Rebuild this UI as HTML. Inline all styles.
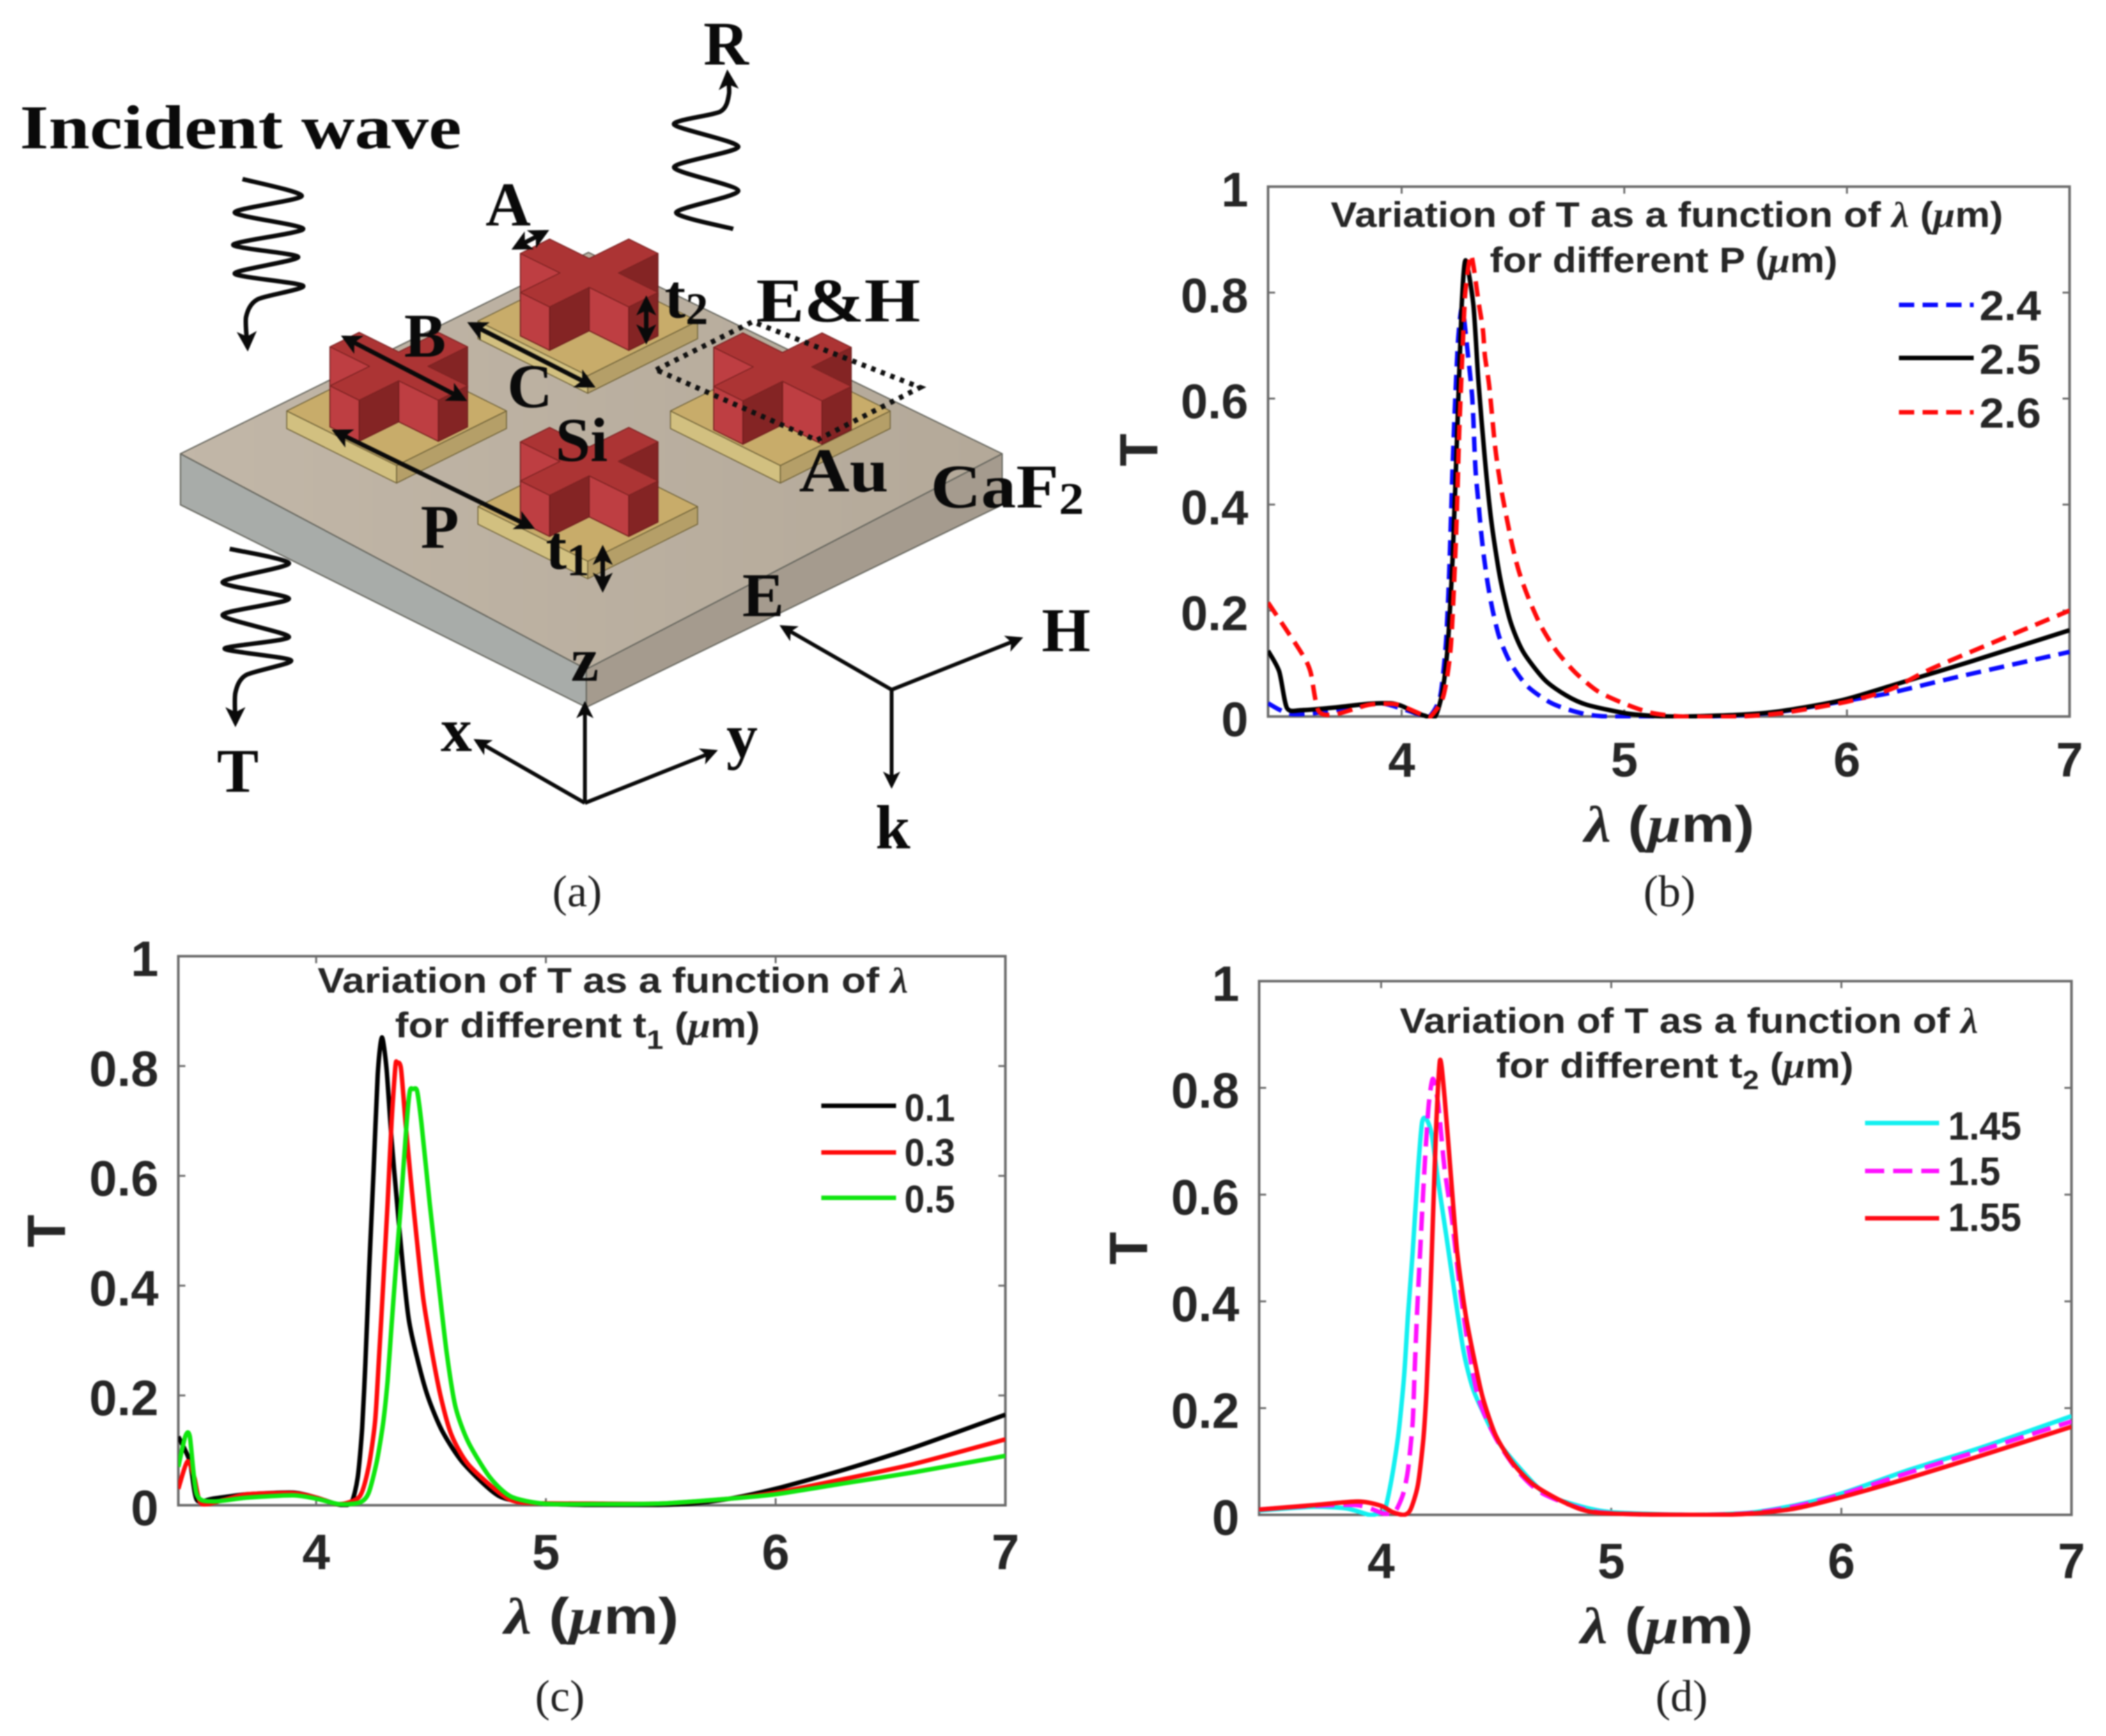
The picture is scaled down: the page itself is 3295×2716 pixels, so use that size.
<!DOCTYPE html>
<html><head><meta charset="utf-8"><title>Metasurface transmission figure</title>
<style>
html,body{margin:0;padding:0;background:#fff}
svg{display:block;filter:blur(1px)}
.d{font-family:"Liberation Serif",serif;font-weight:bold;font-size:98px;fill:#0a0a0a}
.cap{font-family:"Liberation Serif",serif;font-size:70px;fill:#222;text-anchor:middle}
.s{font-family:"Liberation Sans",sans-serif;font-weight:bold;fill:#262626}
.g{font-family:"Liberation Serif",serif;font-style:italic}
.sub{font-size:.72em}
</style></head>
<body>
<svg id="fig" xmlns="http://www.w3.org/2000/svg" width="3295" height="2716" viewBox="0 0 3295 2716">
<rect width="3295" height="2716" fill="#fff"/>
<defs>
<marker id="ah" viewBox="0 0 10 10" refX="8" refY="5" markerWidth="4.5" markerHeight="4.5" orient="auto-start-reverse"><path d="M0,0L10,5L0,10L2.5,5Z" fill="#0a0a0a"/></marker>
<linearGradient id="topGrad" x1="0" y1="0" x2="1" y2="0"><stop offset="0" stop-color="#c2b7a8"/><stop offset="1" stop-color="#b4a999"/></linearGradient>
</defs>
<g id="diagram"></g>
<g>
<text class="d" x="31" y="232" textLength="691" lengthAdjust="spacingAndGlyphs">Incident wave</text>
<text class="d" x="1136" y="101" text-anchor="middle">R</text>
<text class="d" x="795" y="353" text-anchor="middle">A</text>
<text class="d" x="1040" y="497">t<tspan class="sub" dy="10">2</tspan></text>
<text class="d" x="1183" y="503" textLength="257" lengthAdjust="spacingAndGlyphs">E&amp;H</text>
<text class="d" x="665" y="558" text-anchor="middle">B</text>
<text class="d" x="829" y="637" text-anchor="middle">C</text>
<text class="d" x="910" y="721" text-anchor="middle">Si</text>
<text class="d" x="1250" y="769" textLength="140" lengthAdjust="spacingAndGlyphs">Au</text>
<text class="d" x="1456" y="794" textLength="240" lengthAdjust="spacingAndGlyphs">CaF<tspan class="sub" dy="10">2</tspan></text>
<text class="d" x="688" y="857" text-anchor="middle">P</text>
<text class="d" x="854" y="890">t<tspan class="sub" dy="10">1</tspan></text>
<text class="d" x="1194" y="964" text-anchor="middle">E</text>
<text class="d" x="915" y="1065" text-anchor="middle">z</text>
<text class="d" x="1668" y="1019" text-anchor="middle">H</text>
<text class="d" x="714" y="1175" text-anchor="middle">x</text>
<text class="d" x="1161" y="1184" text-anchor="middle">y</text>
<text class="d" x="372" y="1239" text-anchor="middle">T</text>
<text class="d" x="1397" y="1327" text-anchor="middle">k</text>
</g>

<g id="plots"></g>

<g>
<text class="s" x="2082" y="355" font-size="56" textLength="1052" lengthAdjust="spacingAndGlyphs">Variation of T as a function of <tspan class="g">λ</tspan> (<tspan class="g">μ</tspan>m)</text>
<text class="s" x="2331" y="426" font-size="56" textLength="544" lengthAdjust="spacingAndGlyphs">for different P (<tspan class="g">μ</tspan>m)</text>
<text class="s" x="2479" y="1317" font-size="80" textLength="266" lengthAdjust="spacingAndGlyphs"><tspan class="g">λ</tspan> (<tspan class="g">μ</tspan>m)</text>
<text class="s" transform="translate(1811,704) rotate(-90)" text-anchor="middle" font-size="84">T</text>
</g>
<g>
<text class="s" x="497" y="1553" font-size="56" textLength="924" lengthAdjust="spacingAndGlyphs">Variation of T as a function of <tspan class="g">λ</tspan></text>
<text class="s" x="618" y="1623" font-size="56" textLength="571" lengthAdjust="spacingAndGlyphs">for different t<tspan dy="18" font-size="42">1</tspan><tspan dy="-18"> (</tspan><tspan class="g">μ</tspan>m)</text>
<text class="s" x="789" y="2556" font-size="80" textLength="273" lengthAdjust="spacingAndGlyphs"><tspan class="g">λ</tspan> (<tspan class="g">μ</tspan>m)</text>
<text class="s" transform="translate(102,1926) rotate(-90)" text-anchor="middle" font-size="84">T</text>
</g>
<g>
<text class="s" x="2190" y="1616" font-size="56" textLength="905" lengthAdjust="spacingAndGlyphs">Variation of T as a function of <tspan class="g">λ</tspan></text>
<text class="s" x="2341" y="1686" font-size="56" textLength="559" lengthAdjust="spacingAndGlyphs">for different t<tspan dy="18" font-size="42">2</tspan><tspan dy="-18"> (</tspan><tspan class="g">μ</tspan>m)</text>
<text class="s" x="2473" y="2571" font-size="80" textLength="270" lengthAdjust="spacingAndGlyphs"><tspan class="g">λ</tspan> (<tspan class="g">μ</tspan>m)</text>
<text class="s" transform="translate(1795,1953) rotate(-90)" text-anchor="middle" font-size="84">T</text>
</g>
<text class="cap" x="903" y="1418">(a)</text>
<text class="cap" x="2612" y="1418">(b)</text>
<text class="cap" x="876" y="2677">(c)</text>
<text class="cap" x="2631" y="2677">(d)</text>
</svg>
<script>
// ---------- chart data ----------
const xTickValues = [4, 5, 6, 7];
const yTickValues = [0, 0.2, 0.4, 0.6, 0.8, 1];
const yTickLabels = ['0', '0.2', '0.4', '0.6', '0.8', '1'];

const bLegendLabels = ['2.4', '2.5', '2.6'];
const bLambda24 = [3.4,3.45,3.5,3.6,3.75,3.9,4.0,4.1,4.13,4.173,4.198,4.212,4.221,4.23,4.241,4.255,4.273,4.302,4.316,4.322,4.327,4.333,4.345,4.355,4.37,4.388,4.41,4.44,4.489,4.565,4.674,4.8,4.93,5.3,5.5,5.7,6,6.2,6.5,7];
const bT24 = [0.025,0.013,0.005,0.006,0.015,0.025,0.015,0.001,0.002,0.038,0.134,0.252,0.368,0.485,0.602,0.719,0.771,0.666,0.607,0.561,0.508,0.458,0.403,0.356,0.3,0.247,0.198,0.148,0.101,0.057,0.025,0.007,0,0,0.002,0.009,0.03,0.045,0.075,0.122];
const bLambda25 = [3.4,3.45,3.485,3.55,3.7,3.85,3.95,4.0,4.05,4.1,4.15,4.183,4.207,4.23,4.25,4.27,4.287,4.322,4.345,4.374,4.403,4.442,4.488,4.546,4.643,4.738,4.833,5.025,5.217,5.5,5.7,5.98,6.26,6.55,7];
const bT25 = [0.124,0.085,0.016,0.012,0.017,0.024,0.025,0.02,0.01,0.002,0,0.046,0.134,0.309,0.543,0.777,0.861,0.777,0.631,0.485,0.368,0.262,0.18,0.122,0.069,0.04,0.022,0.005,0,0.003,0.01,0.031,0.066,0.103,0.163];
const bLambda26 = [3.4,3.547,3.59,3.626,3.7,3.85,3.95,4.0,4.1,4.13,4.187,4.221,4.244,4.259,4.28,4.287,4.312,4.345,4.365,4.374,4.393,4.417,4.431,4.451,4.474,4.5,4.531,4.575,4.628,4.695,4.78,4.88,4.996,5.12,5.263,5.5,5.7,6,6.2,6.4,7];
const bT26 = [0.215,0.122,0.085,0.011,0.004,0.022,0.024,0.02,0.002,0,0.038,0.134,0.338,0.543,0.754,0.806,0.871,0.783,0.73,0.68,0.625,0.52,0.473,0.42,0.37,0.317,0.268,0.218,0.169,0.124,0.083,0.048,0.025,0.007,0,0,0.006,0.028,0.052,0.094,0.2];

const cLegendLabels = ['0.1', '0.3', '0.5'];
const cLambda01 = [3.4,3.45,3.48,3.55,3.7,3.9,4.0,4.1,4.153,4.181,4.2,4.214,4.231,4.25,4.268,4.286,4.306,4.328,4.352,4.375,4.403,4.439,4.486,4.55,4.644,4.8,4.986,5.3,5.6,5.8,6,6.3,6.6,7];
const cT01 = [0.125,0.08,0.01,0.012,0.02,0.023,0.014,0.001,0.005,0.051,0.14,0.257,0.433,0.609,0.785,0.852,0.796,0.667,0.551,0.445,0.339,0.269,0.198,0.134,0.075,0.016,0.003,0,0.002,0.012,0.03,0.065,0.105,0.165];
const cLambda03 = [3.4,3.44,3.47,3.5,3.6,3.7,3.9,4.0,4.1,4.189,4.228,4.256,4.272,4.292,4.311,4.328,4.345,4.352,4.369,4.389,4.411,4.439,4.467,4.506,4.542,4.589,4.661,4.8,4.894,5.2,5.5,5.8,6,6.3,6.6,7];
const cT03 = [0.03,0.08,0.05,0.003,0.01,0.02,0.022,0.014,0.002,0.016,0.069,0.151,0.257,0.404,0.551,0.697,0.8,0.806,0.796,0.697,0.597,0.48,0.374,0.275,0.198,0.128,0.075,0.022,0.005,0.003,0.003,0.012,0.023,0.048,0.075,0.12];
const cLambda05 = [3.4,3.43,3.45,3.48,3.55,3.7,3.9,4,4.1,4.189,4.228,4.264,4.292,4.311,4.328,4.347,4.367,4.394,4.408,4.422,4.439,4.458,4.494,4.533,4.569,4.606,4.661,4.756,4.847,4.986,5.2,5.5,5.8,6,6.3,6.6,7];
const cT05 = [0.07,0.125,0.125,0.02,0.007,0.014,0.018,0.012,0.002,0.005,0.022,0.08,0.151,0.227,0.327,0.433,0.539,0.697,0.755,0.758,0.755,0.697,0.551,0.404,0.275,0.18,0.116,0.051,0.016,0.003,0.002,0.003,0.012,0.02,0.04,0.06,0.09];

const dLegendLabels = ['1.45', '1.5', '1.55'];
const dLambda145 = [3.47,3.7,3.85,3.95,3.989,4.017,4.048,4.076,4.1,4.117,4.137,4.159,4.178,4.197,4.22,4.248,4.284,4.323,4.359,4.395,4.434,4.517,4.7,4.85,5,5.35,5.6,5.8,6,6.3,6.6,7];
const dT145 = [0.008,0.015,0.012,0,0.003,0.01,0.073,0.154,0.26,0.376,0.491,0.637,0.735,0.741,0.713,0.625,0.521,0.405,0.305,0.242,0.201,0.132,0.044,0.018,0.005,0,0.004,0.018,0.04,0.085,0.125,0.185];
const dLambda15 = [3.47,3.7,3.9,4.0,4.017,4.059,4.095,4.117,4.137,4.145,4.156,4.173,4.187,4.206,4.225,4.248,4.276,4.309,4.34,4.378,4.423,4.498,4.6,4.711,4.942,5.35,5.6,5.8,6,6.3,6.6,7];
const dT15 = [0.01,0.017,0.018,0.004,0.002,0.005,0.038,0.085,0.172,0.26,0.376,0.521,0.637,0.764,0.817,0.77,0.648,0.55,0.434,0.317,0.219,0.144,0.079,0.038,0.005,0,0.003,0.016,0.038,0.08,0.12,0.175];
const dLambda155 = [3.47,3.7,3.9,4.0,4.05,4.1,4.128,4.16,4.184,4.197,4.211,4.225,4.239,4.256,4.276,4.303,4.331,4.367,4.406,4.442,4.498,4.572,4.664,4.803,4.942,5.35,5.6,5.8,6,6.3,6.6,7];
const dT155 = [0.01,0.018,0.025,0.017,0.005,0,0.01,0.056,0.144,0.23,0.376,0.55,0.725,0.852,0.782,0.637,0.491,0.376,0.289,0.219,0.149,0.097,0.056,0.022,0.004,0,0.002,0.012,0.033,0.07,0.11,0.165];

const SVGNS = 'http://www.w3.org/2000/svg';
function mk(parent, tag, name, attrs) {
  const el = document.createElementNS(SVGNS, tag);
  
  
  for (const k in attrs) el.setAttribute(k, attrs[k]);
  parent.appendChild(el);
  return el;
}
function smooth(pts) {
  let d = 'M' + pts[0][0].toFixed(1) + ',' + pts[0][1].toFixed(1);
  for (let i = 0; i < pts.length - 1; i++) {
    const p0 = pts[Math.max(i - 1, 0)], p1 = pts[i], p2 = pts[i + 1], p3 = pts[Math.min(i + 2, pts.length - 1)];
    const c1 = [p1[0] + (p2[0] - p0[0]) / 8, p1[1] + (p2[1] - p0[1]) / 8];
    const c2 = [p2[0] - (p3[0] - p1[0]) / 8, p2[1] - (p3[1] - p1[1]) / 8];
    d += 'C' + c1[0].toFixed(1) + ',' + c1[1].toFixed(1) + ' ' + c2[0].toFixed(1) + ',' + c2[1].toFixed(1) + ' ' + p2[0].toFixed(1) + ',' + p2[1].toFixed(1);
  }
  return d;
}

// ---------- panels ----------
const panels = [
  { id: 'b', left: 1984, right: 3238, top: 292, bottom: 1121, xMin: 3.4, xMax: 7, tickFont: 76, tickSx: 1.0, xTickBase: 1215,
    legendX1: 2971, legendX2: 3088, legendY: [477, 560, 645], legendTextX: 3097, legendBase: [501, 585, 669], legendFont: 66, legendSx: 1.05,
    labels: bLegendLabels,
    series: [
      { name: '2.4', x: bLambda24, y: bT24, color: '#0a0aff', width: 7, dash: '24 13' },
      { name: '2.5', x: bLambda25, y: bT25, color: '#000', width: 7, dash: '' },
      { name: '2.6', x: bLambda26, y: bT26, color: '#ff0a0a', width: 7, dash: '24 13' } ] },
  { id: 'c', left: 279, right: 1573, top: 1496, bottom: 2355, xMin: 3.4, xMax: 7, tickFont: 78, tickSx: 1.0, xTickBase: 2455,
    legendX1: 1285, legendX2: 1402, legendY: [1730, 1803, 1874], legendTextX: 1415, legendBase: [1754, 1824, 1897], legendFont: 60, legendSx: 0.95,
    labels: cLegendLabels,
    series: [
      { name: '0.1', x: cLambda01, y: cT01, color: '#000', width: 7, dash: '' },
      { name: '0.3', x: cLambda03, y: cT03, color: '#ff0a0a', width: 7, dash: '' },
      { name: '0.5', x: cLambda05, y: cT05, color: '#0fe60f', width: 7, dash: '' } ] },
  { id: 'd', left: 1970, right: 3241, top: 1535, bottom: 2370, xMin: 3.47, xMax: 7, tickFont: 78, tickSx: 0.985, xTickBase: 2469,
    legendX1: 2918, legendX2: 3034, legendY: [1757, 1832, 1906], legendTextX: 3048, legendBase: [1783, 1854, 1926], legendFont: 62, legendSx: 0.95,
    labels: dLegendLabels,
    series: [
      { name: '1.45', x: dLambda145, y: dT145, color: '#12f0f0', width: 7, dash: '' },
      { name: '1.5', x: dLambda15, y: dT15, color: '#ff10ff', width: 7, dash: '30 14' },
      { name: '1.55', x: dLambda155, y: dT155, color: '#ff0a14', width: 7, dash: '' } ] }
];

function scaledText(parent, name, x, y, str, font, sx, anchor) {
  const t = mk(parent, 'text', name, {
    class: 's',
    transform: 'translate(' + x + ',' + y + ') scale(' + sx + ',1)',
    'font-size': font,
    'text-anchor': anchor
  });
  t.textContent = str;
  return t;
}

const plotsRoot = document.getElementById('plots');
panels.forEach(function (p) {
  const g = mk(plotsRoot, 'g', 'panel-' + p.id + '-chart', {});
  const xScale = function (v) { return p.left + (v - p.xMin) / (p.xMax - p.xMin) * (p.right - p.left); };
  const yScale = function (v) { return p.bottom - v * (p.bottom - p.top); };
  const clip = mk(g, 'clipPath', 'panel-' + p.id + '-clip', { id: 'clip-' + p.id });
  mk(clip, 'rect', 'panel-' + p.id + '-clip-rect', { x: p.left, y: p.top, width: p.right - p.left, height: p.bottom - p.top + 3 });

  mk(g, 'rect', 'panel-' + p.id + '-plot-box', { x: p.left, y: p.top, width: p.right - p.left, height: p.bottom - p.top, fill: '#fff', stroke: '#6c6c6c', 'stroke-width': 4 });

  xTickValues.forEach(function (v) {
    const x = xScale(v);
    mk(g, 'line', 'panel-' + p.id + '-x-tick', { x1: x, x2: x, y1: p.bottom, y2: p.bottom - 11, stroke: '#6c6c6c', 'stroke-width': 3 });
    mk(g, 'line', 'panel-' + p.id + '-x-tick-top', { x1: x, x2: x, y1: p.top, y2: p.top + 11, stroke: '#6c6c6c', 'stroke-width': 3 });
    scaledText(g, 'panel-' + p.id + '-x-tick-label', x, p.xTickBase, String(v), p.tickFont, p.tickSx, 'middle');
  });
  yTickValues.forEach(function (v, i) {
    const y = yScale(v);
    mk(g, 'line', 'panel-' + p.id + '-y-tick', { x1: p.left, x2: p.left + 11, y1: y, y2: y, stroke: '#6c6c6c', 'stroke-width': 3 });
    mk(g, 'line', 'panel-' + p.id + '-y-tick-right', { x1: p.right, x2: p.right - 11, y1: y, y2: y, stroke: '#6c6c6c', 'stroke-width': 3 });
    scaledText(g, 'panel-' + p.id + '-y-tick-label', p.left - 31, y + 31, yTickLabels[i], p.tickFont, p.tickSx, 'end');
  });

  const lines = mk(g, 'g', 'panel-' + p.id + '-series', { 'clip-path': 'url(#clip-' + p.id + ')' });
  p.series.forEach(function (s) {
    const pts = s.x.map(function (v, i) { return [xScale(v), yScale(s.y[i])]; });
    const attrs = { d: smooth(pts), fill: 'none', stroke: s.color, 'stroke-width': s.width, 'stroke-linejoin': 'round' };
    if (s.dash) attrs['stroke-dasharray'] = s.dash;
    mk(lines, 'path', 'panel-' + p.id + '-series-' + s.name, attrs);
  });

  p.series.forEach(function (s, i) {
    const attrs = { x1: p.legendX1, x2: p.legendX2, y1: p.legendY[i], y2: p.legendY[i], stroke: s.color, 'stroke-width': s.width };
    if (s.dash) attrs['stroke-dasharray'] = s.dash;
    mk(g, 'line', 'panel-' + p.id + '-legend-line-' + s.name, attrs);
    scaledText(g, 'panel-' + p.id + '-legend-label-' + s.name, p.legendTextX, p.legendBase[i], p.labels[i], p.legendFont, p.legendSx, 'start');
  });
});

// ---------- unit-cell diagram ----------
const diagram = document.getElementById('diagram');
const KY = 1440 / 1568;
function M(x, y) { return [x * 1.116, y * KY]; }
function poly(parent, name, pts, fill, stroke, sw) {
  const s = pts.map(function (q) { const m = M(q[0], q[1]); return m[0].toFixed(1) + ',' + m[1].toFixed(1); }).join(' ');
  return mk(parent, 'polygon', name, { points: s, fill: fill, stroke: stroke || 'none', 'stroke-width': sw || 0, 'stroke-linejoin': 'round' });
}
poly(diagram, 'substrate-left-side', [[253,773],[822,1140],[822,1205],[253,860]], '#a8aca9', '#66665e', 2);
poly(diagram, 'substrate-right-side', [[822,1140],[1405,773],[1405,860],[822,1205]], '#a59b8e', '#66665e', 2);
poly(diagram, 'substrate-top', [[253,773],[825,430],[1405,773],[822,1140]], 'url(#topGrad)', '#66665e', 2);

function isoPoint(cx, cy, a, b) { return [cx + a + b, cy + 0.6 * (b - a)]; }
function drawBase(name, cx, cy) {
  const hx = 154, hy = 93, th = 30;
  poly(diagram, name + '-left-side', [[cx-hx,cy],[cx,cy+hy],[cx,cy+hy+th],[cx-hx,cy+th]], '#d2c080', '#6f6238', 1.5);
  poly(diagram, name + '-right-side', [[cx,cy+hy],[cx+hx,cy],[cx+hx,cy+th],[cx,cy+hy+th]], '#b59f68', '#6f6238', 1.5);
  poly(diagram, name + '-top', [[cx-hx,cy],[cx,cy-hy],[cx+hx,cy],[cx,cy+hy]], '#c8ac6a', '#6f6238', 1.5);
}
function drawCross(name, cx, cy, H) {
  const W = 20.5, L = 76;
  const outline = [[-W,-L],[W,-L],[W,-W],[L,-W],[L,W],[W,W],[W,L],[-W,L],[-W,W],[-L,W],[-L,-W],[-W,-W]]
    .map(function (q) { return isoPoint(cx, cy, q[0], q[1]); });
  const faces = [];
  outline.forEach(function (p, i) {
    const q = outline[(i + 1) % outline.length];
    if (q[0] - p[0] < 0) faces.push({ p: p, q: q, my: (p[1] + q[1]) / 2 });
  });
  faces.sort(function (f, g) { return f.my - g.my; });
  faces.forEach(function (f) {
    const alongA = (f.q[1] - f.p[1]) / (f.q[0] - f.p[0]) < 0;
    poly(diagram, name + '-side-face', [f.p, f.q, [f.q[0], f.q[1] + H], [f.p[0], f.p[1] + H]], alongA ? '#842424' : '#be3e42', '#6e1c1c', 1.5);
  });
  poly(diagram, name + '-top', outline, '#ac3434', '#7d2222', 1.5);
}
[['base-back',824,547],['base-left',556,700],['base-right',1094,700],['base-front',824,863]].forEach(function (b) { drawBase(b[0], b[1], b[2]); });
[['cross-back',826,465,74],['cross-left',559,624,70],['cross-right',1097,625,74],['cross-front',826,786,70]].forEach(function (c) { drawCross(c[0], c[1], c[2], c[3]); });

function arrow(name, x1, y1, x2, y2, both, sw) {
  const a = M(x1, y1), b = M(x2, y2);
  const attrs = { x1: a[0], y1: a[1], x2: b[0], y2: b[1], stroke: '#0a0a0a', 'stroke-width': sw || 7, 'marker-end': 'url(#ah)' };
  if (both) attrs['marker-start'] = 'url(#ah)';
  mk(diagram, 'line', name, attrs);
}
arrow('dimension-a-arrow', 722,422,765,395,true);
arrow('dimension-t2-arrow', 906,510,906,580,true);
arrow('dimension-b-arrow', 483,575,650,680,true);
arrow('dimension-c-arrow', 660,552,830,657,true);
arrow('dimension-p-arrow', 470,735,745,898,true);
arrow('dimension-t1-arrow', 845,935,845,1003,true);
arrow('e-field-arrow', 1250,1175,1097,1068,false,6);
arrow('h-field-arrow', 1250,1175,1430,1088,false,6);
arrow('k-vector-arrow', 1250,1175,1250,1338,false,6);
arrow('z-axis-arrow', 820,1368,820,1200,false,6);
arrow('x-axis-arrow', 820,1368,668,1262,false,6);
arrow('y-axis-arrow', 820,1368,1002,1280,false,6);

const dots = [[920,630],[1055,548],[1290,660],[1145,750]].map(function (q) { const m = M(q[0], q[1]); return m.join(','); }).join(' ');
mk(diagram, 'polygon', 'field-plane-dotted-outline', { points: dots, fill: 'none', stroke: '#111', 'stroke-width': 8, 'stroke-dasharray': '7 9' });

function wave(name, pts) {
  mk(diagram, 'path', name, { d: smooth(pts.map(function (q) { return M(q[0], q[1]); })), fill: 'none', stroke: '#0a0a0a', 'stroke-width': 7, 'marker-end': 'url(#ah)' });
}
wave('incident-wave-arrow', [[340,305],[423,334],[329,362],[425,390],[327,417],[418,438],[329,466],[425,487],[361,510],[345,540],[347,592]]);
wave('reflected-wave-arrow', [[1028,390],[948,362],[1035,325],[945,285],[1035,250],[945,212],[1010,190],[1022,160],[1020,125]]);
wave('transmitted-wave-arrow', [[322,935],[405,960],[312,992],[405,1020],[312,1048],[405,1085],[315,1105],[408,1125],[345,1150],[330,1180],[330,1232]]);
</script>
</body></html>
